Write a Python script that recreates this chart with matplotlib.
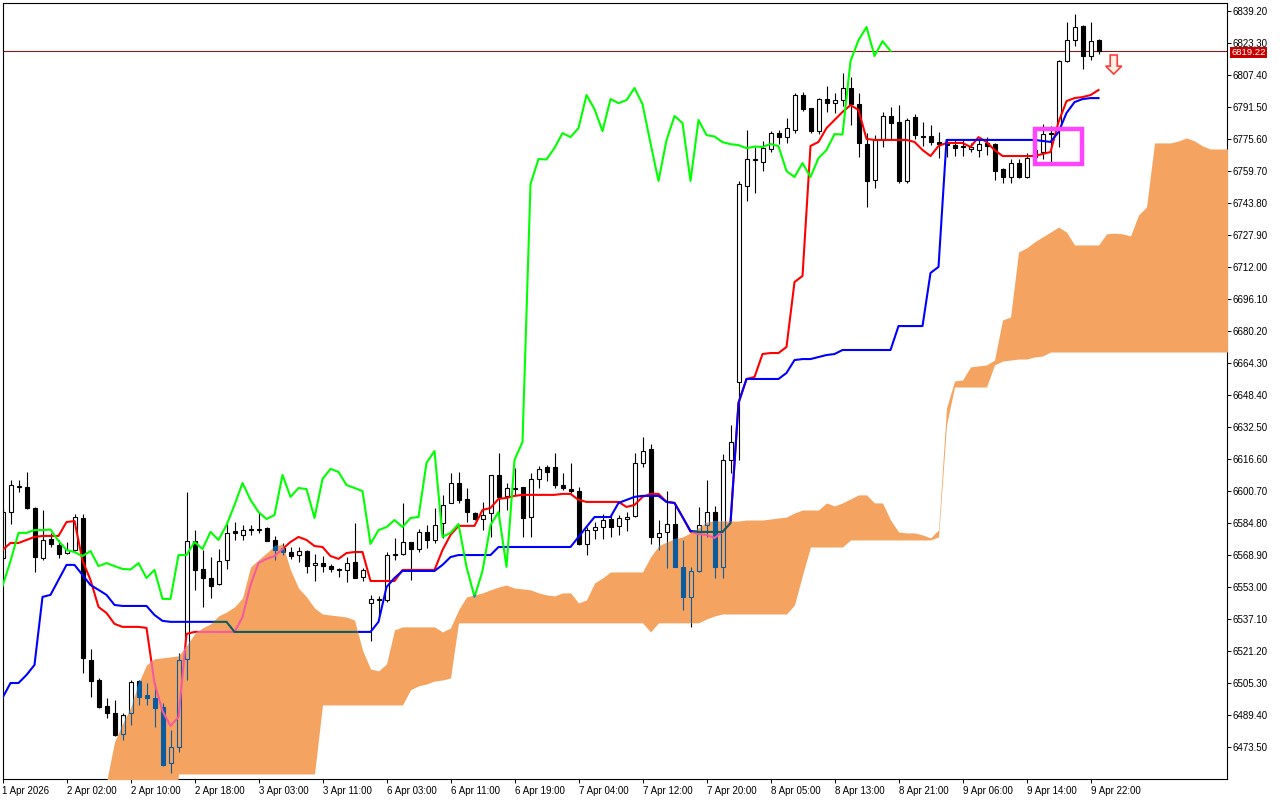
import numpy as np
import matplotlib
matplotlib.use("Agg")
import matplotlib.pyplot as plt
from matplotlib.collections import LineCollection
from matplotlib.patches import Rectangle, Polygon
from matplotlib.transforms import blended_transform_factory

plt.rcParams['font.family'] = ['Liberation Sans', 'DejaVu Sans']

# H1 candles, 1 Apr 2026 .. 9 Apr 2026
opens = [6567.2, 6590.1, 6602.5, 6602.5, 6592.1, 6567.2, 6576.7, 6573.7, 6569.7, 6571.2,
         6587.1, 6516.5, 6506.6, 6493.7, 6490.2, 6479.8, 6490.2, 6506.1, 6499.2, 6497.7,
         6493.2, 6465.4, 6473.3, 6517.0, 6575.7, 6561.8, 6557.3, 6554.3, 6566.2, 6580.7,
         6578.7, 6581.6, 6581.1, 6582.1, 6576.2, 6572.2, 6570.2, 6568.7, 6570.7, 6563.7,
         6564.7, 6563.2, 6561.8, 6561.3, 6565.2, 6557.8, 6544.9, 6546.4, 6546.4, 6569.2,
         6569.2, 6575.2, 6571.7, 6580.2, 6576.2, 6584.6, 6594.6, 6604.5, 6596.6, 6589.6,
         6586.6, 6589.6, 6608.5, 6598.1, 6602.0, 6602.5, 6587.6, 6606.5, 6612.5, 6612.5,
         6603.5, 6601.5, 6600.5, 6574.2, 6581.1, 6582.6, 6586.6, 6583.1, 6586.6, 6588.1,
         6614.5, 6621.4, 6577.7, 6580.2, 6584.1, 6562.8, 6547.9, 6560.8, 6583.6, 6590.1,
         6562.8, 6616.0, 6654.7, 6752.1, 6765.0, 6764.0, 6770.5, 6778.4, 6776.4, 6779.9,
         6797.3, 6790.8, 6779.4, 6795.3, 6793.3, 6794.8, 6800.8, 6792.8, 6772.9, 6755.1,
         6774.9, 6786.9, 6783.9, 6754.6, 6786.4, 6777.2, 6776.9, 6773.9, 6772.9, 6772.4,
         6771.9, 6770.5, 6770.0, 6773.4, 6772.9, 6760.5, 6756.6, 6763.5, 6756.6, 6766.5,
         6769.0, 6778.4, 6781.4, 6814.2, 6824.6, 6831.6, 6816.7, 6824.6]
highs = [6591.6, 6606.0, 6606.0, 6610.0, 6592.6, 6591.1, 6579.7, 6576.2, 6575.2, 6589.1,
         6589.1, 6522.0, 6507.6, 6497.7, 6496.7, 6490.2, 6506.6, 6506.6, 6505.1, 6505.1,
         6495.2, 6481.8, 6520.0, 6600.0, 6581.1, 6571.2, 6567.7, 6571.7, 6585.1, 6585.1,
         6583.6, 6583.6, 6590.1, 6582.6, 6578.2, 6574.7, 6572.7, 6572.7, 6571.2, 6569.2,
         6568.2, 6564.2, 6562.3, 6567.7, 6584.6, 6562.3, 6548.9, 6548.4, 6570.2, 6577.2,
         6594.6, 6575.2, 6581.6, 6583.6, 6592.1, 6598.5, 6609.5, 6610.0, 6602.0, 6590.1,
         6595.1, 6608.5, 6619.4, 6604.5, 6612.0, 6602.5, 6609.5, 6613.0, 6613.5, 6619.4,
         6609.5, 6614.5, 6602.5, 6582.6, 6585.1, 6589.1, 6589.1, 6588.6, 6590.1, 6619.4,
         6627.4, 6623.9, 6586.1, 6600.5, 6594.6, 6576.2, 6562.8, 6592.6, 6606.0, 6593.1,
         6619.0, 6633.4, 6754.6, 6780.0, 6771.5, 6774.5, 6779.4, 6779.9, 6785.9, 6798.3,
         6798.8, 6790.8, 6795.8, 6801.8, 6798.3, 6808.3, 6806.3, 6798.3, 6778.4, 6777.4,
         6788.8, 6791.3, 6792.3, 6785.9, 6787.9, 6783.9, 6782.4, 6778.9, 6774.9, 6774.9,
         6774.9, 6773.4, 6775.0, 6776.4, 6773.4, 6761.0, 6765.5, 6765.5, 6768.5, 6772.0,
         6782.9, 6781.9, 6814.7, 6833.6, 6837.5, 6832.1, 6833.6, 6825.1]
lows = [6566.2, 6584.1, 6600.0, 6591.6, 6560.3, 6566.2, 6572.7, 6567.2, 6569.4, 6570.7,
        6510.1, 6498.2, 6492.7, 6487.7, 6478.8, 6476.8, 6484.2, 6494.2, 6494.2, 6483.2,
        6464.0, 6460.4, 6470.8, 6506.6, 6551.3, 6542.9, 6547.4, 6553.8, 6561.8, 6576.2,
        6576.2, 6578.7, 6579.7, 6575.7, 6566.2, 6568.7, 6566.7, 6565.2, 6559.8, 6555.8,
        6560.3, 6560.3, 6557.8, 6555.3, 6557.3, 6555.8, 6526.0, 6538.0, 6545.4, 6566.2,
        6568.7, 6556.3, 6570.2, 6572.2, 6574.7, 6577.2, 6594.6, 6594.6, 6585.1, 6586.1,
        6581.1, 6577.7, 6586.1, 6591.1, 6598.6, 6577.7, 6577.7, 6602.0, 6605.5, 6602.0,
        6601.0, 6599.6, 6573.7, 6568.7, 6576.7, 6576.7, 6577.7, 6578.7, 6580.7, 6587.6,
        6612.5, 6574.2, 6571.2, 6562.3, 6562.8, 6541.4, 6533.0, 6560.3, 6577.7, 6557.3,
        6557.3, 6609.5, 6616.0, 6744.6, 6748.6, 6759.5, 6769.0, 6772.9, 6773.4, 6778.4,
        6789.3, 6778.4, 6777.9, 6788.8, 6788.3, 6791.8, 6782.4, 6766.5, 6741.6, 6751.1,
        6771.5, 6774.9, 6753.6, 6753.6, 6775.4, 6772.0, 6772.5, 6766.0, 6766.5, 6767.0,
        6767.0, 6769.0, 6766.5, 6767.5, 6755.1, 6753.6, 6753.6, 6756.1, 6756.1, 6765.0,
        6765.5, 6763.5, 6771.5, 6813.7, 6821.6, 6810.2, 6814.7, 6817.7]
closes = [6590.1, 6603.5, 6603.0, 6592.1, 6567.7, 6576.2, 6574.2, 6569.2, 6571.2, 6587.6,
          6517.5, 6506.1, 6493.2, 6490.2, 6479.3, 6489.2, 6505.6, 6498.2, 6497.7, 6492.7,
          6464.4, 6473.3, 6516.5, 6575.7, 6561.3, 6557.3, 6553.3, 6565.7, 6579.7, 6579.7,
          6581.1, 6581.1, 6581.4, 6575.7, 6571.2, 6570.2, 6568.2, 6570.7, 6563.2, 6564.7,
          6563.2, 6561.8, 6561.5, 6564.7, 6557.3, 6561.3, 6546.9, 6546.9, 6568.7, 6568.7,
          6575.2, 6571.7, 6580.2, 6576.2, 6583.6, 6593.6, 6604.5, 6596.1, 6590.1, 6586.6,
          6588.6, 6608.5, 6597.6, 6602.0, 6601.5, 6587.1, 6606.5, 6611.5, 6610.0, 6603.5,
          6602.0, 6600.5, 6574.2, 6581.1, 6582.6, 6586.1, 6582.6, 6587.1, 6587.6, 6614.5,
          6620.4, 6577.7, 6579.7, 6584.1, 6562.8, 6547.9, 6560.8, 6583.6, 6590.1, 6562.8,
          6616.0, 6624.9, 6753.1, 6765.5, 6765.3, 6771.0, 6778.4, 6776.4, 6780.9, 6797.3,
          6790.3, 6779.4, 6795.3, 6793.3, 6794.8, 6800.8, 6792.8, 6773.4, 6754.6, 6774.9,
          6786.9, 6783.4, 6754.6, 6784.9, 6777.4, 6776.7, 6773.9, 6772.9, 6772.4, 6770.9,
          6771.7, 6771.5, 6773.0, 6771.9, 6759.5, 6756.6, 6763.5, 6756.6, 6766.0, 6770.0,
          6777.9, 6777.7, 6814.2, 6824.6, 6831.1, 6816.7, 6824.1, 6819.22]

# Ichimoku lines
tenkan = [6571.2, 6574.7, 6574.7, 6576.2, 6577.7, 6578.2, 6578.2, 6578.2, 6585.1, 6585.6,
          6566.0, 6556.3, 6542.9, 6539.9, 6534.5, 6533.0, 6533.0, 6533.0, 6532.5, 6505.1,
          6491.2, 6483.8, 6488.2, 6529.5, 6530.5, 6530.5, 6530.5, 6530.5, 6530.5, 6530.5,
          6537.9, 6553.8, 6564.8, 6566.8, 6568.2, 6571.7, 6575.2, 6577.7, 6576.2, 6573.2,
          6572.7, 6568.2, 6566.8, 6569.7, 6570.2, 6570.2, 6555.8, 6555.8, 6555.8, 6555.8,
          6561.3, 6561.3, 6561.3, 6561.3, 6561.3, 6571.2, 6578.7, 6583.2, 6583.2, 6583.2,
          6591.1, 6592.1, 6596.6, 6597.1, 6598.1, 6598.6, 6598.6, 6598.6, 6598.6, 6598.6,
          6599.1, 6599.1, 6596.1, 6595.1, 6595.1, 6595.1, 6595.1, 6595.1, 6592.6, 6593.6,
          6597.6, 6599.1, 6599.1, 6595.1, 6594.6, 6587.6, 6580.2, 6579.2, 6578.7, 6577.2,
          6580.2, 6584.6, 6644.3, 6656.2, 6657.2, 6668.6, 6669.1, 6669.1, 6672.1, 6704.4,
          6707.4, 6772.0, 6774.0, 6780.9, 6784.9, 6788.9, 6792.3, 6789.9, 6775.5, 6775.0,
          6775.0, 6775.0, 6775.0, 6775.0, 6774.0, 6770.0, 6767.0, 6772.0, 6773.5, 6773.5,
          6773.5, 6771.5, 6776.4, 6774.0, 6770.0, 6767.0, 6767.0, 6767.0, 6767.0, 6767.0,
          6768.0, 6769.0, 6783.9, 6794.3, 6795.8, 6796.3, 6797.3, 6799.8]
kijun = [6497.7, 6505.1, 6505.1, 6509.1, 6514.1, 6547.9, 6548.9, 6556.3, 6563.8, 6563.8,
         6558.8, 6553.8, 6551.4, 6548.9, 6543.9, 6543.4, 6543.4, 6543.4, 6543.4, 6538.9,
         6536.0, 6535.5, 6535.5, 6535.5, 6535.5, 6535.5, 6535.5, 6535.5, 6535.5, 6530.5,
         6530.5, 6530.5, 6530.5, 6530.5, 6530.5, 6530.5, 6530.5, 6530.5, 6530.5, 6530.5,
         6530.5, 6530.5, 6530.5, 6530.5, 6530.5, 6530.5, 6530.5, 6535.5, 6552.8, 6557.3,
         6560.8, 6560.8, 6560.8, 6560.8, 6560.8, 6563.8, 6567.7, 6568.7, 6568.7, 6568.7,
         6568.7, 6568.7, 6572.7, 6572.7, 6572.7, 6572.7, 6572.7, 6572.7, 6572.7, 6572.7,
         6572.7, 6572.7, 6577.7, 6582.7, 6587.6, 6587.6, 6587.6, 6594.6, 6596.1, 6597.6,
         6598.1, 6598.1, 6598.1, 6595.1, 6594.6, 6587.6, 6580.7, 6580.2, 6580.2, 6580.2,
         6580.2, 6584.6, 6644.3, 6656.2, 6656.2, 6656.2, 6656.2, 6656.2, 6659.2, 6665.6,
         6666.1, 6666.1, 6667.1, 6668.1, 6668.6, 6670.6, 6670.6, 6670.6, 6670.6, 6670.6,
         6670.6, 6670.6, 6682.5, 6682.5, 6682.5, 6682.5, 6708.9, 6711.9, 6775.0, 6775.0,
         6775.0, 6775.0, 6775.0, 6775.0, 6775.0, 6775.0, 6775.0, 6775.0, 6775.0, 6775.0,
         6774.5, 6774.0, 6778.9, 6788.4, 6793.8, 6795.3, 6795.8, 6795.8]
chikou_shift = 26

# cloud edges, bars 11..154 (shifted 26 bars forward)
cloud_start = 11
span_a = [6432.1, 6442.0, 6455.9, 6475.8, 6484.8, 6492.7, 6505.1, 6514.1, 6517.1, 6517.6,
          6518.1, 6518.6, 6523.5, 6529.5, 6532.5, 6534.5, 6538.4, 6540.4, 6542.9, 6547.4,
          6562.8, 6566.3, 6569.7, 6573.2, 6574.2, 6561.3, 6552.3, 6547.9, 6542.4, 6539.4,
          6538.9, 6538.4, 6537.9, 6536.4, 6521.5, 6512.1, 6511.1, 6514.6, 6531.5, 6533.0,
          6533.0, 6533.0, 6533.0, 6533.0, 6530.5, 6532.5, 6541.4, 6547.9, 6548.9, 6549.9,
          6551.4, 6552.8, 6553.8, 6552.3, 6551.9, 6551.4, 6549.9, 6548.9, 6548.4, 6549.9,
          6549.9, 6544.9, 6546.4, 6554.8, 6557.3, 6560.3, 6560.3, 6560.3, 6560.3, 6560.3,
          6567.7, 6573.2, 6575.2, 6576.7, 6577.7, 6579.7, 6582.2, 6585.1, 6585.6, 6585.6,
          6585.6, 6585.6, 6586.1, 6586.1, 6586.1, 6586.6, 6587.1, 6587.6, 6589.6, 6591.1,
          6591.1, 6591.1, 6594.6, 6593.1, 6594.6, 6596.6, 6598.6, 6598.6, 6594.6, 6594.6,
          6586.1, 6580.2, 6579.7, 6579.7, 6578.7, 6577.2, 6581.2, 6641.8, 6655.2, 6655.7,
          6662.2, 6662.7, 6663.2, 6665.6, 6685.5, 6687.0, 6719.3, 6721.3, 6724.3, 6726.8,
          6729.2, 6731.7, 6729.2, 6722.8, 6722.8, 6722.8, 6722.8, 6728.3, 6728.7, 6728.3,
          6727.3, 6737.7, 6741.7, 6773.5, 6773.5, 6773.5, 6774.5, 6776.0, 6774.5, 6772.0,
          6770.5, 6770.5, 6770.5, 6770.5]
span_b = [6420.0, 6420.0, 6420.0, 6420.0, 6420.0, 6420.0, 6420.0, 6420.0, 6420.0, 6420.0,
          6420.0, 6459.9, 6459.9, 6459.9, 6459.9, 6459.9, 6459.9, 6459.9, 6459.9, 6459.9,
          6459.9, 6459.9, 6459.9, 6459.9, 6459.9, 6459.9, 6459.9, 6459.9, 6459.9, 6494.2,
          6494.2, 6494.2, 6494.2, 6494.2, 6494.2, 6494.2, 6494.2, 6494.2, 6494.2, 6494.2,
          6501.7, 6503.7, 6504.6, 6506.1, 6506.6, 6507.6, 6535.0, 6535.0, 6535.0, 6535.0,
          6535.0, 6535.0, 6535.0, 6535.0, 6535.0, 6535.0, 6535.0, 6535.0, 6535.0, 6535.0,
          6535.0, 6535.0, 6535.0, 6535.0, 6535.0, 6535.0, 6535.0, 6535.0, 6535.0, 6535.0,
          6530.5, 6535.0, 6535.0, 6535.0, 6535.0, 6535.0, 6535.0, 6536.9, 6538.4, 6539.4,
          6539.4, 6539.4, 6539.4, 6539.4, 6539.4, 6539.4, 6539.4, 6539.4, 6543.9, 6558.8,
          6572.7, 6572.7, 6572.7, 6572.7, 6572.7, 6576.2, 6576.2, 6576.2, 6576.2, 6576.2,
          6576.2, 6576.2, 6576.2, 6576.2, 6576.2, 6576.2, 6577.7, 6633.3, 6652.2, 6652.2,
          6652.2, 6652.2, 6652.2, 6663.2, 6665.1, 6665.6, 6666.1, 6666.1, 6667.1, 6667.6,
          6669.6, 6669.6, 6669.6, 6669.6, 6669.6, 6669.6, 6669.6, 6669.6, 6669.6, 6669.6,
          6669.6, 6669.6, 6669.6, 6669.6, 6669.6, 6669.6, 6669.6, 6669.6, 6669.6, 6669.6,
          6669.6, 6669.6, 6669.6, 6669.6]

time_labels = ['1 Apr 2026', '2 Apr 02:00', '2 Apr 10:00', '2 Apr 18:00', '3 Apr 03:00',
               '3 Apr 11:00', '6 Apr 03:00', '6 Apr 11:00', '6 Apr 19:00', '7 Apr 04:00',
               '7 Apr 12:00', '7 Apr 20:00', '8 Apr 05:00', '8 Apr 13:00', '8 Apr 21:00',
               '9 Apr 06:00', '9 Apr 14:00', '9 Apr 22:00']
label_step = 8
price_ticks = [6473.50, 6489.40, 6505.30, 6521.20, 6537.10, 6553.00, 6568.90, 6584.80,
               6600.70, 6616.60, 6632.50, 6648.40, 6664.30, 6680.20, 6696.10, 6712.00,
               6727.90, 6743.80, 6759.70, 6775.60, 6791.50, 6807.40, 6823.30, 6839.20]
last_price = 6819.22

# signal markers
zone_bars = (129.05, 134.9)
zone_prices = (6762.8, 6780.4)
arrow_bar = 138.9
arrow_top = 6817.2
arrow_neck = 6811.7
arrow_tip = 6807.7

# colours a black/red/blue/green pixel takes inside the cloud in MT5
in_cloud = {'#000000': '#0B5B9F', '#FF0000': '#F45B9F', '#0000FF': '#0B5B60',
            '#00FF00': '#0BA49F', '#FFFFFF': 'none'}

fig = plt.figure(figsize=(12.8, 8), dpi=100)
ax = fig.add_axes([2.5 / 1280, 21 / 800, 1224.5 / 1280, 776.5 / 800])
ax.set_xlim(0, 153.06)
ax.set_ylim(6457.4, 6843.3)

o = np.array(opens)
h = np.array(highs)
l = np.array(lows)
c = np.array(closes)
x = np.arange(len(c))
body_lo = np.minimum(o, c)
body_hi = np.maximum(o, c)
bull = c >= o

xc = np.arange(cloud_start, cloud_start + len(span_a))
cloud = ax.fill_between(xc, span_a, span_b, color='#F4A460', lw=0, zorder=4)
cloud_path = cloud.get_paths()[0]


def candles(edge, bear_face, bull_face, z, clip=None):
    segs = [[(i, l[i]), (i, body_lo[i])] for i in x] + [[(i, body_hi[i]), (i, h[i])] for i in x]
    lc = LineCollection(segs, colors=edge, linewidths=0.8, zorder=z)
    ax.add_collection(lc)
    faces = [bull_face if b else bear_face for b in bull]
    bars = ax.bar(x, np.maximum(body_hi - body_lo, 0.35), bottom=body_lo, width=0.5,
                  color=faces, edgecolor=edge, linewidth=0.8, zorder=z)
    if clip is not None:
        lc.set_clip_path(clip, ax.transData)
        for p in bars:
            p.set_clip_path(clip, ax.transData)


candles('#000000', '#000000', '#FFFFFF', 2)
candles(in_cloud['#000000'], in_cloud['#000000'], 'none', 5, cloud_path)

chikou = closes[chikou_shift:]
series = [(x, tenkan, '#FF0000', 3.0), (x, kijun, '#0000FF', 3.1),
          (x[:len(chikou)], chikou, '#00FF00', 3.2)]
for xs, vals, col, z in series:
    ax.plot(xs, vals, color=col, lw=1.5, zorder=z)
    ln, = ax.plot(xs, vals, color=in_cloud[col], lw=1.5, zorder=z + 3)
    ln.set_clip_path(cloud_path, ax.transData)

ax.axhline(last_price, color='#8A1A1A', lw=0.8, zorder=1)

ax.add_patch(Rectangle((zone_bars[0], zone_prices[0]), zone_bars[1] - zone_bars[0],
                       zone_prices[1] - zone_prices[0], fill=False, ec='#FF44FF',
                       lw=3.2, joinstyle='miter', zorder=8))

b = arrow_bar
ax.add_patch(Polygon([(b - 0.44, arrow_top), (b + 0.44, arrow_top), (b + 0.44, arrow_neck),
                      (b + 1.0, arrow_neck), (b, arrow_tip), (b - 1.0, arrow_neck),
                      (b - 0.44, arrow_neck)], closed=True, fc='#FFF2E4', ec='#FF3B3B',
                     lw=1.2, zorder=8))

for s in ax.spines.values():
    s.set_color('black')
    s.set_linewidth(0.8)

ax.yaxis.tick_right()
ax.set_yticks(price_ticks)
ax.set_yticklabels(['%.2f' % p for p in price_ticks])
ax.tick_params(axis='y', direction='out', length=3, width=0.7, labelsize=7, pad=1)

ax.set_xticks(np.arange(len(time_labels)) * label_step)
ax.set_xticklabels(time_labels, ha='left')
ax.tick_params(axis='x', direction='out', length=3, width=0.7, labelsize=7, pad=2)

# current price tag on the axis, drawn over the neighbouring tick label as in MT5
tr = blended_transform_factory(ax.transAxes, ax.transData)
ax.text(1.0035, last_price - 0.6, '%.2f' % last_price, transform=tr, ha='left', va='center',
        fontsize=6.8, color='white', clip_on=False, zorder=10,
        bbox=dict(boxstyle='square,pad=0.1', fc='#C80000', ec='none'))

fig.savefig('out.png', dpi=100, facecolor='white')
